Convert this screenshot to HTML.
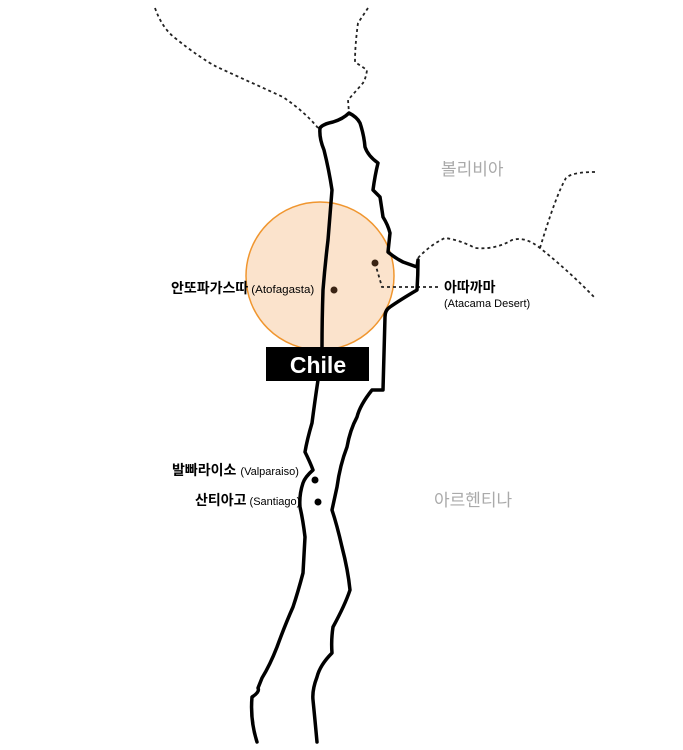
<!DOCTYPE html>
<html><head><meta charset="utf-8"><style>
html,body{margin:0;padding:0;background:#fff;}
svg{display:block;}
text{font-family:"Liberation Sans","Noto Sans CJK KR",sans-serif;}
</style></head><body>
<svg width="683" height="750" viewBox="0 0 683 750">
<circle cx="320" cy="276" r="74" fill="#fbe3cc" stroke="#f0962f" stroke-width="1.5"/>
<g fill="none" stroke="#222" stroke-width="1.8" stroke-dasharray="3,3">
<path d="M155,8 Q162,28 175,38 Q200,58 217,67 L283,97 Q305,112 318,128"/>
<path d="M368,8 L358,23 Q355,45 355,62 L367,70 Q366,78 363,83 L348,100 L349,113"/>
<path d="M418,258 Q430,245 445,238 Q460,240 475,248 Q495,250 512,240 Q525,236 540,248 Q570,272 595,298"/>
<path d="M595,172 Q572,172 566,178 Q556,195 540,248"/>
<path d="M375,263 L382,287 L440,287"/>
</g>
<g fill="none" stroke="#000" stroke-width="3.5" stroke-linejoin="round" stroke-linecap="round">
<path d="M320,128 Q323,124 333,122 Q343,119 349,113 Q357,117 360,123 Q364,135 365,147 Q368,156 378,163 Q375,175 373,190 L380,197 Q382,210 383,217 Q388,225 390,233 L388,252 Q395,258 403,262 L417,267 L418,260 Q418,275 417,290 Q400,300 390,307 Q385,310 385,317 Q384,350 383,390 L372,390 Q360,405 357,417 Q350,430 347,447 Q340,465 337,487 L332,510 Q337,525 342,547 Q348,570 350,590 Q345,605 333,627 Q331,640 332,653 Q320,665 317,677 Q312,690 313,700 Q315,720 317,742"/>
<path d="M320,128 Q319,138 324,150 Q329,170 332,190 Q330,215 328,240 Q325,265 323,290 Q322,320 322,347 L318,380 Q315,400 312,423 Q307,440 305,452 Q310,462 313,470 Q305,477 303,483 Q299,495 300,507 Q303,520 305,537 Q304,555 303,573 Q298,592 293,607 Q285,625 277,647 Q270,665 262,678 L258,688 Q260,692 252,697 Q250,720 257,742"/>
</g>
<circle cx="334" cy="290" r="3.5" fill="#3a2414"/>
<circle cx="375" cy="263" r="3.5" fill="#3a2414"/>
<circle cx="315" cy="480" r="3.5" fill="#000"/>
<circle cx="318" cy="502" r="3.5" fill="#000"/>
<rect x="266" y="347" width="103" height="34" fill="#000"/>
<text x="318" y="373" text-anchor="middle" fill="#fff" font-size="23" font-weight="bold">Chile</text>
<text x="171" y="293" font-size="14" font-weight="bold" fill="#000">안또파가스따<tspan font-size="11" font-weight="normal" dx="3" textLength="63" lengthAdjust="spacingAndGlyphs">(Atofagasta)</tspan></text>
<text x="444" y="292" font-size="14" font-weight="bold" fill="#000">아따까마</text>
<text x="444" y="307" font-size="11" fill="#000">(Atacama Desert)</text>
<text x="172" y="475" font-size="14" font-weight="bold" fill="#000">발빠라이소<tspan font-size="11" font-weight="normal" dx="4">(Valparaiso)</tspan></text>
<text x="195" y="505" font-size="14" font-weight="bold" fill="#000">산티아고<tspan font-size="11" font-weight="normal" dx="3">(Santiago)</tspan></text>
<text x="441" y="175" font-size="17" fill="#aaa">볼리비아</text>
<text x="434" y="506" font-size="17" fill="#aaa">아르헨티나</text>
</svg>
</body></html>
